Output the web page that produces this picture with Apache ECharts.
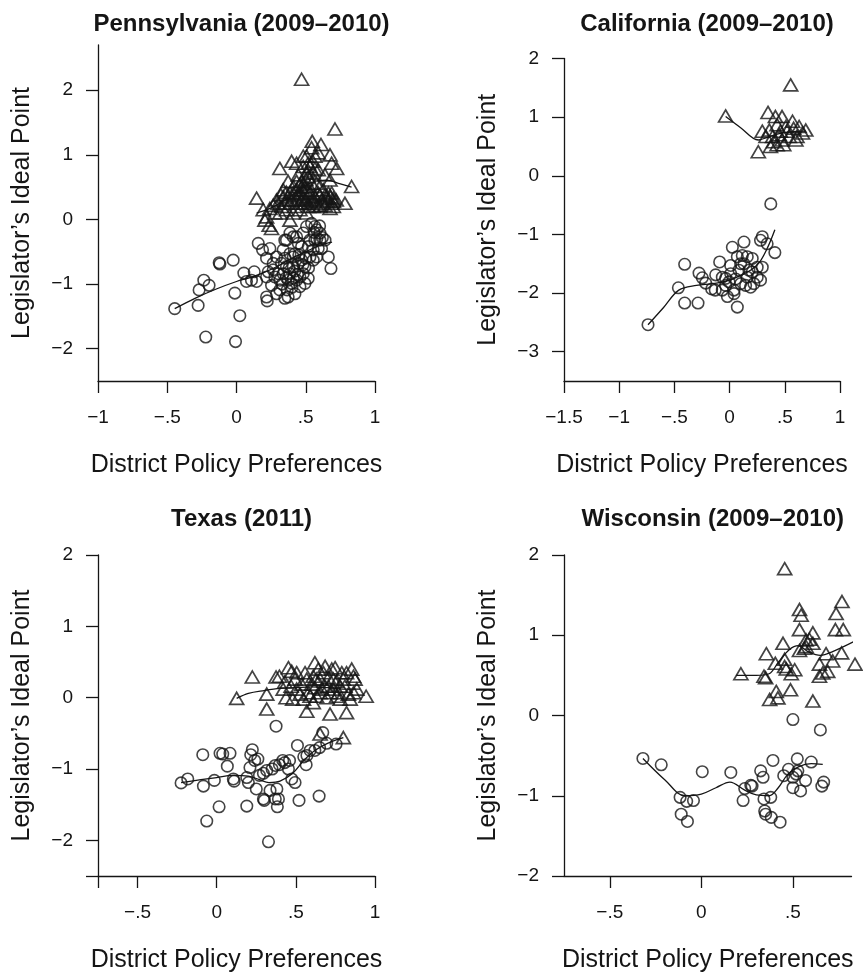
<!DOCTYPE html>
<html>
<head>
<meta charset="utf-8">
<script src="https://cdn.jsdelivr.net/npm/echarts@6/dist/echarts.min.js"></script>
<style>html,body{margin:0;padding:0;background:#fff;}#c{width:863px;height:974px;}</style>
</head>
<body>
<div id="c"></div>
<script>
// ---------- titles ----------
const titles = ["Pennsylvania (2009\u20132010)", "California (2009\u20132010)", "Texas (2011)", "Wisconsin (2009\u20132010)"];
const xTitle = "District Policy Preferences";
const yTitle = "Legislator\u2019s Ideal Point";

// ---------- tick values ----------
const paXTicks = [-1, -0.5, 0, 0.5, 1];
const paYTicks = [-2, -1, 0, 1, 2];
const caXTicks = [-1.5, -1, -0.5, 0, 0.5, 1];
const caYTicks = [-3, -2, -1, 0, 1, 2];
const txXTicks = [-0.75, -0.5, 0, 0.5, 1];
const txXLabels = [-0.5, 0, 0.5, 1];
const txYTicks = [-2.5, -2, -1, 0, 1, 2];
const txYLabels = [-2, -1, 0, 1, 2];
const wiXTicks = [-0.5, 0, 0.5];
const wiYTicks = [-2, -1, 0, 1, 2];

// ---------- Pennsylvania ----------
const paDem = [[-0.446,-1.38],[-0.277,-1.33],[-0.27,-1.09],[-0.236,-0.94],[-0.198,-1.02],[-0.222,-1.82],[-0.125,-0.67],[-0.12,-0.69],[-0.024,-0.63],[-0.012,-1.14],[0.024,-1.49],[-0.007,-1.89],[0.053,-0.83],[0.072,-0.96],[0.128,-0.81],[0.145,-0.96],[0.157,-0.37],[0.188,-0.47],[0.217,-0.6],[0.217,-1.2],[0.222,-1.26],[0.229,-0.81],[0.108,-0.94],[0.241,-0.45],[0.289,-0.58],[0.277,-0.89],[0.253,-1.02],[0.289,-1.15],[0.313,-1.09],[0.349,-1.22],[0.373,-1.2],[0.337,-0.47],[0.349,-0.32],[0.386,-0.21],[0.41,-0.27],[0.434,-0.27],[0.47,-0.42],[0.446,-0.68],[0.41,-0.73],[0.361,-0.73],[0.386,-0.84],[0.337,-0.84],[0.313,-0.94],[0.482,-0.84],[0.458,-0.89],[0.494,-0.99],[0.518,-0.91],[0.53,-0.58],[0.518,-0.42],[0.554,-0.47],[0.566,-0.32],[0.578,-0.16],[0.542,-0.06],[0.566,-0.11],[0.602,-0.21],[0.639,-0.32],[0.663,-0.58],[0.682,-0.76],[0.506,-0.11],[0.422,-1.15],[0.458,-1.04],[0.361,-0.32],[0.386,-0.53],[0.41,-0.58],[0.59,-0.45],[0.614,-0.45],[0.265,-0.68],[0.325,-0.68],[0.373,-0.94],[0.398,-0.99],[0.434,-0.94],[0.422,-0.53],[0.47,-0.63],[0.494,-0.73],[0.554,-0.63],[0.578,-0.58],[0.602,-0.32],[0.53,-0.32],[0.482,-0.21],[0.446,-0.37],[0.301,-0.84],[0.265,-0.78],[0.217,-0.89],[0.41,-0.91],[0.366,-1.09],[0.35,-0.6],[0.38,-0.75],[0.42,-0.8],[0.45,-0.55],[0.48,-0.7],[0.5,-0.6],[0.33,-1.0],[0.36,-0.9],[0.4,-1.05],[0.44,-0.85],[0.52,-0.75],[0.56,-0.2],[0.58,-0.3],[0.62,-0.28],[0.6,-0.1]];
const paRep = [[0.47,2.17],[0.711,1.4],[0.547,1.21],[0.61,1.16],[0.542,1.11],[0.675,1.0],[0.687,0.87],[0.723,0.79],[0.313,0.79],[0.398,0.9],[0.434,0.87],[0.506,0.98],[0.518,0.87],[0.566,0.98],[0.482,0.82],[0.53,0.82],[0.554,0.72],[0.59,0.77],[0.639,0.69],[0.675,0.61],[0.831,0.51],[0.373,0.59],[0.446,0.69],[0.47,0.59],[0.494,0.51],[0.145,0.33],[0.193,0.15],[0.217,0.04],[0.241,0.17],[0.265,0.22],[0.289,0.3],[0.337,0.35],[0.361,0.3],[0.386,0.25],[0.41,0.41],[0.434,0.46],[0.458,0.41],[0.47,0.3],[0.494,0.25],[0.53,0.41],[0.566,0.35],[0.59,0.41],[0.614,0.3],[0.651,0.33],[0.687,0.25],[0.699,0.2],[0.783,0.25],[0.386,-0.01],[0.253,-0.14],[0.205,-0.01],[0.236,-0.09],[0.313,0.1],[0.361,0.15],[0.41,0.1],[0.458,0.15],[0.506,0.1],[0.554,0.2],[0.602,0.51],[0.627,0.46],[0.663,0.41],[0.434,0.3],[0.482,0.35],[0.506,0.51],[0.542,0.56],[0.337,0.46],[0.386,0.41],[0.578,0.56],[0.518,0.66],[0.687,0.41],[0.699,0.33],[0.602,0.2],[0.639,0.22],[0.675,0.17],[0.349,0.25],[0.325,0.2],[0.277,0.1],[0.482,0.98],[0.566,0.79],[0.59,1.03],[0.506,0.72],[0.518,0.25],[0.542,0.3],[0.434,0.59],[0.41,0.51],[0.458,0.54],[0.3,0.25],[0.32,0.38],[0.36,0.42],[0.4,0.3],[0.42,0.2],[0.44,0.38],[0.46,0.25],[0.48,0.45],[0.5,0.32],[0.52,0.2],[0.54,0.45],[0.56,0.28],[0.58,0.22],[0.6,0.38],[0.62,0.25],[0.64,0.38],[0.66,0.28],[0.68,0.35],[0.7,0.28],[0.72,0.3],[0.5,0.62],[0.52,0.75],[0.55,0.9],[0.5,0.45],[0.47,0.5]];
const paDemFit = [[-0.446,-1.38],[-0.3,-1.22],[-0.15,-1.08],[0,-0.96],[0.1,-0.9],[0.2,-0.82],[0.3,-0.72],[0.4,-0.6],[0.5,-0.5],[0.6,-0.4],[0.69,-0.35]];
const paRepFit = [[0.145,0.1],[0.25,0.18],[0.35,0.3],[0.45,0.45],[0.55,0.58],[0.65,0.61],[0.75,0.55],[0.831,0.5]];

// ---------- California ----------
const caDem = [[-0.739,-2.54],[-0.464,-1.91],[-0.407,-1.51],[-0.407,-2.17],[-0.286,-2.17],[-0.277,-1.66],[-0.247,-1.74],[-0.217,-1.83],[-0.162,-1.93],[-0.126,-1.69],[-0.09,-1.47],[-0.066,-1.95],[-0.13,-1.95],[-0.02,-2.06],[-0.036,-1.75],[-0.005,-1.81],[0.01,-1.53],[0.025,-1.22],[0.04,-1.95],[0.04,-2.01],[0.07,-2.24],[0.07,-1.38],[0.085,-1.61],[0.115,-1.36],[0.13,-1.13],[0.13,-1.5],[0.16,-1.73],[0.175,-1.61],[0.205,-1.41],[0.22,-1.84],[0.25,-1.56],[0.28,-1.1],[0.296,-1.04],[0.28,-1.78],[0.296,-1.56],[0.34,-1.16],[0.373,-0.48],[0.41,-1.31],[0.1,-1.84],[0.19,-1.9],[0.145,-1.87],[0.055,-1.76],[-0.036,-1.87],[0.205,-1.64],[0.25,-1.73],[0.01,-1.67],[0.1,-1.5],[0.16,-1.38],[-0.066,-1.73]];
const caRep = [[-0.036,1.02],[0.553,1.55],[0.348,1.08],[0.296,0.76],[0.26,0.41],[0.37,0.5],[0.415,1.01],[0.475,1.01],[0.43,0.87],[0.46,0.76],[0.51,0.84],[0.57,0.93],[0.58,0.81],[0.63,0.84],[0.69,0.78],[0.61,0.67],[0.54,0.67],[0.475,0.61],[0.4,0.58],[0.49,0.53],[0.43,0.53],[0.39,0.67],[0.45,0.7],[0.52,0.76],[0.66,0.73],[0.6,0.61],[0.36,0.78],[0.33,0.67]];
const caDemFit = [[-0.739,-2.54],[-0.6,-2.25],[-0.46,-1.95],[-0.3,-1.87],[-0.15,-1.84],[0,-1.78],[0.1,-1.7],[0.2,-1.6],[0.28,-1.45],[0.35,-1.2],[0.41,-0.92]];
const caRepFit = [[-0.036,1.01],[0.1,0.82],[0.26,0.61],[0.35,0.66],[0.45,0.72],[0.55,0.75],[0.69,0.76]];

// ---------- Texas ----------
const txDem = [[-0.225,-1.195],[-0.183,-1.14],[-0.088,-0.8],[-0.084,-1.24],[-0.063,-1.73],[-0.015,-1.16],[0.015,-1.53],[0.021,-0.78],[0.038,-0.79],[0.084,-0.78],[0.067,-0.96],[0.105,-1.14],[0.11,-1.17],[0.19,-1.52],[0.19,-1.12],[0.2,-1.19],[0.21,-0.98],[0.215,-0.8],[0.225,-0.73],[0.24,-0.88],[0.26,-0.86],[0.25,-1.28],[0.27,-1.09],[0.295,-1.06],[0.316,-1.02],[0.295,-1.42],[0.3,-1.44],[0.327,-2.02],[0.337,-1.3],[0.35,-1.0],[0.37,-0.95],[0.38,-1.28],[0.37,-1.42],[0.383,-1.53],[0.39,-1.42],[0.375,-0.4],[0.396,-0.94],[0.417,-0.88],[0.43,-0.91],[0.453,-1.0],[0.46,-0.88],[0.495,-1.19],[0.474,-1.14],[0.51,-0.67],[0.52,-1.44],[0.565,-0.94],[0.57,-0.81],[0.59,-0.74],[0.62,-0.74],[0.647,-1.38],[0.65,-0.7],[0.67,-0.49],[0.695,-0.64],[0.754,-0.65],[0.55,-0.83]];
const txRep = [[0.126,-0.01],[0.225,0.29],[0.316,0.05],[0.316,-0.16],[0.375,0.29],[0.396,0.3],[0.43,0.22],[0.453,0.42],[0.474,0.37],[0.438,0.0],[0.48,-0.02],[0.495,0.26],[0.505,0.12],[0.527,0.05],[0.537,0.19],[0.558,0.35],[0.569,0.26],[0.569,-0.19],[0.58,0.07],[0.6,0.19],[0.61,0.3],[0.62,0.49],[0.62,0.14],[0.63,0.02],[0.642,0.4],[0.653,0.26],[0.663,0.12],[0.674,0.35],[0.685,0.16],[0.695,0.0],[0.706,0.28],[0.716,-0.23],[0.727,0.4],[0.737,0.12],[0.748,0.42],[0.758,0.23],[0.77,0.07],[0.78,-0.02],[0.79,0.35],[0.8,0.26],[0.81,0.16],[0.82,-0.21],[0.832,0.05],[0.843,-0.02],[0.853,0.4],[0.864,0.3],[0.874,0.26],[0.885,0.12],[0.944,0.02],[0.653,-0.51],[0.8,-0.56],[0.59,0.02],[0.61,-0.07],[0.63,0.26],[0.505,0.35],[0.47,0.16],[0.42,0.12],[0.548,-0.02],[0.653,0.07],[0.716,0.07],[0.737,0.26],[0.758,0.02],[0.78,0.16],[0.685,0.44],[0.706,0.16],[0.864,0.07],[0.82,0.35]];
const txDemFit = [[-0.225,-1.19],[-0.1,-1.15],[0,-1.12],[0.1,-1.09],[0.2,-1.1],[0.27,-1.15],[0.33,-1.19],[0.4,-1.17],[0.48,-1.06],[0.55,-0.88],[0.62,-0.74],[0.7,-0.64],[0.8,-0.56]];
const txRepFit = [[0.126,-0.01],[0.2,0.06],[0.3,0.1],[0.4,0.13],[0.5,0.14],[0.6,0.15],[0.7,0.14],[0.8,0.12],[0.906,0.12]];

// ---------- Wisconsin ----------
const wiDem = [[-0.319,-0.535],[-0.219,-0.614],[-0.116,-1.02],[-0.08,-1.07],[-0.043,-1.06],[-0.11,-1.23],[-0.076,-1.32],[0.005,-0.7],[0.161,-0.71],[0.228,-1.06],[0.237,-0.91],[0.27,-0.87],[0.277,-0.88],[0.324,-0.69],[0.337,-0.77],[0.342,-1.04],[0.379,-1.02],[0.346,-1.19],[0.351,-1.23],[0.382,-1.27],[0.43,-1.33],[0.391,-0.56],[0.45,-0.75],[0.476,-0.67],[0.5,-0.05],[0.5,-0.77],[0.5,-0.9],[0.524,-0.54],[0.527,-0.69],[0.518,-0.73],[0.542,-0.94],[0.569,-0.81],[0.6,-0.58],[0.65,-0.18],[0.668,-0.83],[0.658,-0.88]];
const wiRep = [[0.216,0.52],[0.342,0.49],[0.355,0.77],[0.351,0.47],[0.373,0.2],[0.404,0.65],[0.409,0.3],[0.418,0.22],[0.446,0.9],[0.455,1.83],[0.455,0.7],[0.464,0.58],[0.487,0.32],[0.491,0.52],[0.51,0.57],[0.536,1.32],[0.545,1.25],[0.536,1.07],[0.536,0.81],[0.563,0.84],[0.572,0.94],[0.59,0.95],[0.609,1.03],[0.609,0.9],[0.609,0.18],[0.645,0.64],[0.645,0.49],[0.663,0.53],[0.69,0.55],[0.681,0.77],[0.717,0.68],[0.736,1.27],[0.732,1.07],[0.768,1.42],[0.775,1.07],[0.766,0.78],[0.839,0.64],[0.572,0.86],[0.455,0.61]];
const wiDemFit = [[-0.319,-0.535],[-0.2,-0.8],[-0.09,-1.0],[0,-0.98],[0.08,-0.9],[0.156,-0.83],[0.237,-0.93],[0.3,-0.99],[0.37,-1.0],[0.42,-0.9],[0.47,-0.74],[0.53,-0.64],[0.6,-0.6],[0.663,-0.61]];
const wiRepFit = [[0.19,0.5],[0.3,0.5],[0.37,0.52],[0.42,0.66],[0.48,0.82],[0.53,0.87],[0.58,0.8],[0.65,0.75],[0.72,0.8],[0.84,0.93]];

// ---------- layout ----------
const INK = '#151515';
const FONT = '"Liberation Sans", Arial, Helvetica, sans-serif';
const fmt = v => {
  if (Math.abs(v) < 1e-9) return '0';
  let s = String(Math.abs(v));
  if (s.startsWith('0.')) s = s.slice(1);
  return (v < 0 ? '\u2212' : '') + s;
};
const panels = [
  {grid:{left:98, top:45, width:277, height:336}, xr:[-1,1], yr:[-2.5,2.7], xt:paXTicks, xl:paXTicks, yt:paYTicks, yl:paYTicks, dem:paDem, rep:paRep, df:paDemFit, rf:paRepFit, ty:7},
  {grid:{left:564, top:58.5, width:276, height:322.5}, xr:[-1.5,1], yr:[-3.5,2], xt:caXTicks, xl:caXTicks, yt:caYTicks, yl:caYTicks, dem:caDem, rep:caRep, df:caDemFit, rf:caRepFit, ty:7},
  {grid:{left:98, top:555, width:277, height:322}, xr:[-0.75,1], yr:[-2.5,2], xt:txXTicks, xl:txXLabels, yt:txYTicks, yl:txYLabels, dem:txDem, rep:txRep, df:txDemFit, rf:txRepFit, ty:502},
  {grid:{left:564, top:555, width:287.5, height:322}, xr:[-0.75,0.82], yr:[-2,2], xt:wiXTicks, xl:wiXTicks, yt:wiYTicks, yl:wiYTicks, dem:wiDem, rep:wiRep, df:wiDemFit, rf:wiRepFit, ty:502}
];

const option = {
  backgroundColor: '#fff',
  animation: false,
  title: [], grid: [], xAxis: [], yAxis: [], series: []
};
panels.forEach((p, i) => {
  option.grid.push(Object.assign({containLabel:false}, p.grid));
  option.title.push({
    text: titles[i], left: p.grid.left + p.grid.width / 2, top: p.ty, textAlign: 'center',
    textStyle: {fontFamily: FONT, fontWeight: 'bold', fontSize: 24, color: INK}
  });
  const axisCommon = {
    type: 'value', gridIndex: i,
    axisLine: {show: true, onZero: false, lineStyle: {color: INK, width: 1.3}},
    splitLine: {show: false},
    nameLocation: 'middle',
    nameTextStyle: {fontFamily: FONT, fontSize: 25, color: INK}
  };
  option.xAxis.push(Object.assign({}, axisCommon, {
    min: p.xr[0], max: p.xr[1], name: xTitle, nameGap: 72,
    axisTick: {show: true, inside: false, length: 12, customValues: p.xt, lineStyle: {color: INK, width: 1.3}},
    axisLabel: {customValues: p.xl, formatter: fmt, margin: 27, fontFamily: FONT, fontSize: 19, color: INK}
  }));
  option.yAxis.push(Object.assign({}, axisCommon, {
    min: p.yr[0], max: p.yr[1], name: yTitle, nameGap: 63,
    axisTick: {show: true, inside: false, length: 12, customValues: p.yt, lineStyle: {color: INK, width: 1.3}},
    axisLabel: {customValues: p.yl, formatter: fmt, margin: 25, fontFamily: FONT, fontSize: 19, color: INK}
  }));
  const lineSeries = (d) => ({
    type: 'line', xAxisIndex: i, yAxisIndex: i, data: d, showSymbol: false, smooth: 0.35,
    clip: false, lineStyle: {color: INK, width: 1.3}, z: 3, silent: true
  });
  option.series.push({
    type: 'scatter', xAxisIndex: i, yAxisIndex: i, data: p.dem, symbol: 'circle', symbolSize: 11.5,
    clip: false, itemStyle: {color: 'rgba(0,0,0,0)', borderColor: INK, borderWidth: 1.6}, z: 2
  });
  option.series.push({
    type: 'scatter', xAxisIndex: i, yAxisIndex: i, data: p.rep, symbol: 'triangle', symbolSize: [14, 12],
    clip: false, itemStyle: {color: 'rgba(0,0,0,0)', borderColor: INK, borderWidth: 1.7}, z: 2
  });
  option.series.push(lineSeries(p.df));
  option.series.push(lineSeries(p.rf));
});

const chart = echarts.init(document.getElementById('c'), null, {renderer: 'canvas'});
chart.setOption(option);
</script>
</body>
</html>
